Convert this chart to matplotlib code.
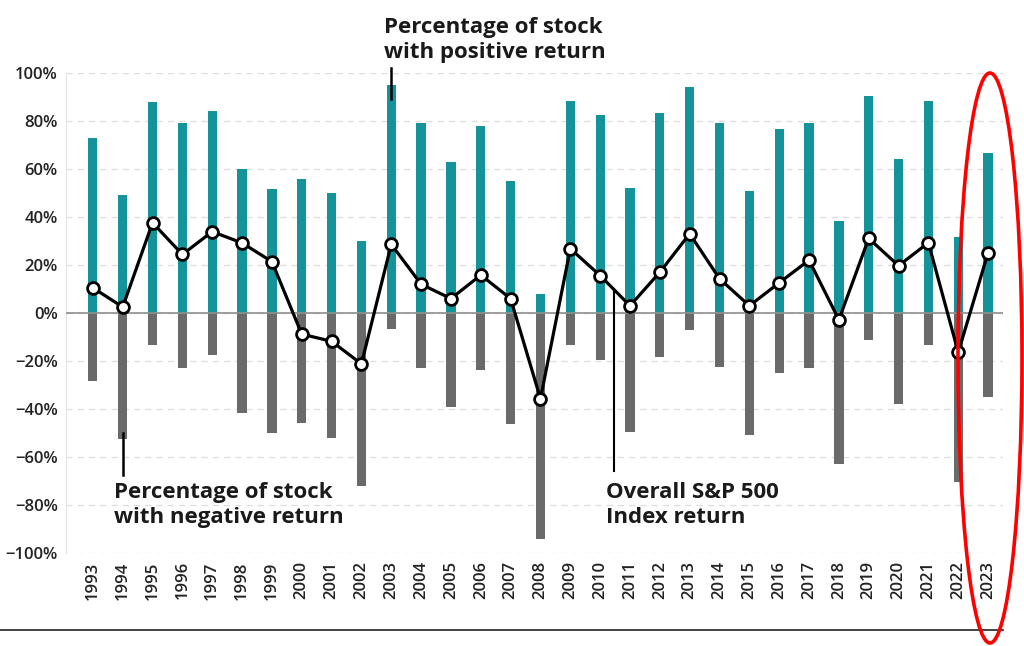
import matplotlib
matplotlib.use("Agg")
import matplotlib.pyplot as plt
from matplotlib.patches import Ellipse
from matplotlib.lines import Line2D
import numpy as np

years = list(range(1993, 2024))
pos_pct = [73, 49, 88, 79, 84, 60, 51.5, 56, 50, 30, 95, 79, 63, 78, 55, 8,
           88.5, 82.4, 52, 83.5, 94.3, 79.3, 51, 76.7, 79, 38.5, 90.5, 64.2, 88.5, 31.8, 66.7]
neg_pct = [-28.2, -52.5, -13.2, -22.9, -17.6, -41.7, -50, -45.8, -52, -72.2, -6.5, -22.8,
           -39, -23.8, -46.4, -94.2, -13.5, -19.6, -49.7, -18.2, -7.2, -22.4, -50.8, -25.2,
           -22.8, -63, -11.1, -37.8, -13.5, -70.3, -35]
sp500 = [10.5, 2.5, 37.6, 24.4, 33.9, 29.2, 21.4, -8.8, -11.8, -21.2, 28.6, 12, 6, 15.8,
         6, -35.7, 26.8, 15.6, 3, 17, 33, 14.3, 3, 12.6, 22, -2.8, 31.1, 19.7, 29.3, -16.4, 25.1]
yticks = [100, 80, 60, 40, 20, 0, -20, -40, -60, -80, -100]

FONT = "Open Sans"
plt.rcParams['font.family'] = [FONT, 'DejaVu Sans']

fig = plt.figure(figsize=(10.24, 6.46), dpi=100)
ax = fig.add_axes([66/1024, 1-553/646, (1003-66)/1024, (553-73)/646])

teal = "#14949a"
gray = "#6a6a6a"
w = 0.31
ax.bar(years, pos_pct, width=w, color=teal, zorder=2)
ax.bar(years, neg_pct, width=w, color=gray, zorder=2)
ax.plot(years, sp500, color="black", lw=2.3, marker="o", markersize=8.5,
        markerfacecolor="white", markeredgecolor="black", markeredgewidth=2, zorder=4)

ax.set_ylim(-100, 100)
ax.set_xlim(1993 - 0.9, 2023 + 0.5)
ax.set_yticks(yticks)
ax.set_yticklabels([f"{t}%" if t >= 0 else f"\u2212{abs(t)}%" for t in yticks],
                   fontsize=12, color="#222222", fontweight="semibold")
ax.set_xticks(years)
ax.set_xticklabels([str(y) for y in years], rotation=90, fontsize=12,
                   color="#222222", fontweight="semibold")
ax.tick_params(axis='both', length=0, pad=6)
ax.grid(axis='y', color="#dddddd", linestyle=(0, (5, 4)), lw=0.9, zorder=0)
for s in ["top", "right", "bottom"]:
    ax.spines[s].set_visible(False)
ax.spines["left"].set_color("#e4e4e4")
ax.axhline(0, color="#8f8f8f", lw=1.2, zorder=3)

tkw = dict(fontsize=16, fontweight="bold", color="#1a1a1a", va="top", ha="left",
           linespacing=1.22)
ax.text(2002.75, 123.3, "Percentage of stock\nwith positive return", clip_on=False, **tkw)
ax.plot([2003, 2003], [102, 89], color="black", lw=1.8, clip_on=False, zorder=5)

ax.text(1993.72, -70.6, "Percentage of stock\nwith negative return", **tkw)
ax.plot([1994, 1994], [-50, -67.5], color="black", lw=1.8, zorder=5)

ax.text(2010.2, -70.6, "Overall S&P 500\nIndex return", **tkw)
ax.plot([2010.45, 2010.45], [9.5, -66], color="black", lw=1.5, zorder=5)

fig.add_artist(Line2D([0, 1003/1024], [1-630/646, 1-630/646], color="#333333", lw=1.3,
                      transform=fig.transFigure))
fig.add_artist(Ellipse((990/1024, 1-358/646), 64/1024, 570/646, fill=False,
                       edgecolor="#ff0000", lw=2.6, transform=fig.transFigure, zorder=10))

fig.savefig("out.png", dpi=100)
